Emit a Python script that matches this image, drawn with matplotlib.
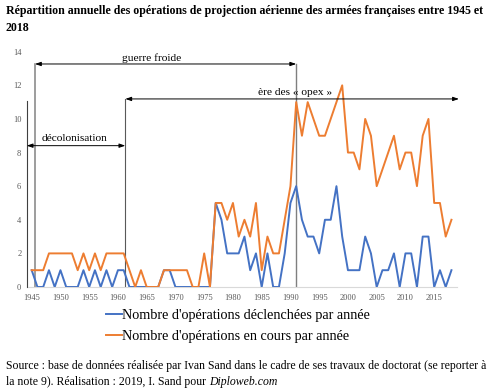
"""
Répartition annuelle des opérations de projection aérienne (1945-2018).
"""

import matplotlib
matplotlib.use("Agg")
import matplotlib.pyplot as plt
import numpy as np

plt.rcParams["font.family"] = ["Liberation Serif", "DejaVu Serif"]

# ---------------------------------------------------------------------------
# Data
# ---------------------------------------------------------------------------

years = np.arange(1945, 2019)

declenchees = [
    1, 0, 0, 1, 0, 1, 0, 0, 0, 1,   # 1945-1954
    0, 1, 0, 1, 0, 1, 1, 0, 0, 0,   # 1955-1964
    0, 0, 0, 1, 1, 0, 0, 0, 0, 0,   # 1965-1974
    0, 0, 5, 4, 2, 2, 2, 3, 1, 2,   # 1975-1984
    0, 2, 0, 0, 2, 5, 6, 4, 3, 3,   # 1985-1994
    2, 4, 4, 6, 3, 1, 1, 1, 3, 2,   # 1995-2004
    0, 1, 1, 2, 0, 2, 2, 0, 3, 3,   # 2005-2014
    0, 1, 0, 1,                     # 2015-2018
]

en_cours = [
    1, 1, 1, 2, 2, 2, 2, 2, 1, 2,
    1, 2, 1, 2, 2, 2, 2, 1, 0, 1,
    0, 0, 0, 1, 1, 1, 1, 1, 0, 0,
    2, 0, 5, 5, 4, 5, 3, 4, 3, 5,
    1, 3, 2, 2, 4, 6, 11, 9, 11, 10,
    9, 9, 10, 11, 12, 8, 8, 7, 10, 9,
    6, 7, 8, 9, 7, 8, 8, 6, 9, 10,
    5, 5, 3, 4,
]

label_decl = "Nombre d'opérations déclenchées par année"
label_cours = "Nombre d'opérations en cours par année"

# periods: (label, start, end, y level of arrow)
periodes = [
    ("guerre froide", 1945.57, 1991.0, 13.27),
    ("ère des « opex »", 1961.28, 2019.3, 11.19),
    ("décolonisation", 1944.13, 1961.28, 8.41),
]

BLUE = "#4472C4"
ORANGE = "#ED7D31"
GREY_TXT = "#595959"

# ---------------------------------------------------------------------------
# Figure
# ---------------------------------------------------------------------------

fig = plt.figure(figsize=(5, 3.9), dpi=100)
ax = fig.add_axes([0.0565, 0.2641, 0.8579, 0.6033])

ax.plot(years, declenchees, color=BLUE, lw=1.4, label=label_decl, zorder=3)
ax.plot(years, en_cours, color=ORANGE, lw=1.4, label=label_cours, zorder=4)

ax.set_xlim(1944.4, 2019.0)
ax.set_ylim(0, 14)
ax.set_xticks(np.arange(1945, 2016, 5))
ax.set_yticks(np.arange(0, 15, 2))
ax.tick_params(length=0, labelsize=6, colors=GREY_TXT, pad=5)
for s in ["top", "right", "left"]:
    ax.spines[s].set_visible(False)
ax.spines["bottom"].set_color("#d9d9d9")
ax.spines["bottom"].set_linewidth(0.8)

# vertical period markers
ax.plot([1944.13, 1944.13], [0, 11.07], color="#404040", lw=0.8, clip_on=False, zorder=2)
ax.plot([1945.57, 1945.57], [0, 13.27], color="#8c8c8c", lw=1.2, zorder=2)
ax.plot([1961.28, 1961.28], [0, 11.19], color="#595959", lw=0.8, zorder=2)
ax.plot([1991.0, 1991.0], [0, 13.27], color="#7f7f7f", lw=1.0, zorder=2)

# double-headed arrows with labels
text_pos = {
    "guerre froide": (1965.9, 13.63),
    "ère des « opex »": (1990.8, 11.55),
    "décolonisation": (1952.4, 8.83),
}
for name, x0, x1, yv in periodes:
    ax.annotate(
        "", xy=(x1, yv), xytext=(x0, yv),
        arrowprops=dict(arrowstyle="<|-|>,head_length=0.35,head_width=0.12",
                        color="black", lw=0.7, shrinkA=0, shrinkB=0),
        annotation_clip=False, zorder=5,
    )
    tx, ty = text_pos[name]
    ax.text(tx, ty, name, fontsize=8.2, ha="center", va="center", zorder=6)

# legend
fig.legend(
    loc="upper left", bbox_to_anchor=(0.212, 1 - 309 / 390),
    frameon=False, fontsize=10.2, handlelength=1.1, handletextpad=0.05,
    labelspacing=0.58, borderpad=0, borderaxespad=0,
)

# title
fig.text(0.012, 1 - 14 / 390,
         "Répartition annuelle des opérations de projection aérienne des armées françaises entre 1945 et",
         fontsize=8.6, fontweight="bold", va="baseline", ha="left")
fig.text(0.012, 1 - 31 / 390, "2018", fontsize=8.6, fontweight="bold",
         va="baseline", ha="left")

# source
fig.text(0.012, 1 - 369 / 390,
         "Source : base de données réalisée par Ivan Sand dans le cadre de ses travaux de doctorat (se reporter à",
         fontsize=8.45, va="baseline", ha="left")
t2 = fig.text(0.012, 1 - 385 / 390, "la note 9). Réalisation : 2019, I. Sand pour",
              fontsize=8.45, va="baseline", ha="left")
renderer = fig.canvas.get_renderer()
bb = t2.get_window_extent(renderer=renderer)
fig.text((bb.x1 + 3) / fig.bbox.width, 1 - 385 / 390, "Diploweb.com",
         fontsize=8.45, style="italic", va="baseline", ha="left")

fig.savefig("out.png", dpi=100)
